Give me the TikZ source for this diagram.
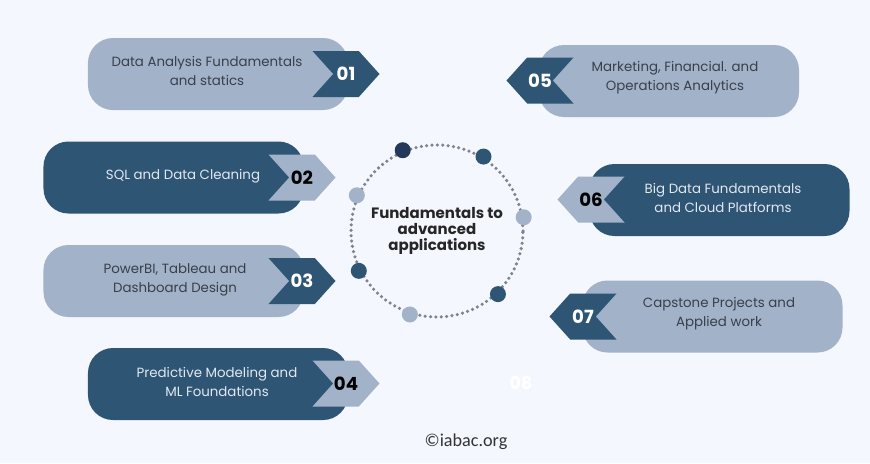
\documentclass[tikz,border=0pt]{standalone}
\usepackage{fontspec}
\setmainfont{Poppins}
\newfontfamily\footfont{Carlito}
\usetikzlibrary{shapes.symbols,positioning}
\definecolor{bgc}{HTML}{F4F7FD}
\definecolor{lightc}{HTML}{A1B2C9}
\definecolor{darkc}{HTML}{2F5575}
\definecolor{navyc}{HTML}{26385A}
\definecolor{ringc}{HTML}{7D8391}
\definecolor{inkc}{HTML}{3A3F4A}
\definecolor{paperc}{HTML}{E2E8F0}

\begin{document}
\begin{tikzpicture}[
  x=0.03cm, y=-0.03cm,
  every node/.style={font=\fontsize{11.4}{16}\selectfont},
  box/.style={rounded corners=0.75cm, minimum width=7.8cm, minimum height=2.16cm, inner sep=0pt},
  lightbox/.style={box, fill=lightc},
  darkbox/.style={box, fill=darkc},
  ontext/.style={align=center, text=inkc},
  offtext/.style={align=center, text=paperc},
  tag/.style={signal, signal pointer angle=96, minimum width=2.01cm, minimum height=1.38cm, inner sep=0pt, font=\fontsize{15.5}{15.5}\selectfont\bfseries},
  tagr/.style={tag, signal from=west, signal to=east},
  tagl/.style={tag, signal from=east, signal to=west},
  dot/.style={circle, minimum size=0.48cm, inner sep=0pt}
]
\fill[bgc] (0,0) rectangle (870,463);
\useasboundingbox (0,0) rectangle (870,463);

% left column
\node[lightbox] (b1) at (218,74) {};
\node[darkbox] (b2) at (173.5,177.5) {};
\node[lightbox] (b3) at (173.5,281) {};
\node[darkbox] (b4) at (218,384) {};
\node[tagr, fill=darkc, text=white] (t1) at (346,74) {01};
\node[tagr, fill=lightc, text=black] (t2) at (302,177.5) {02};
\node[tagr, fill=darkc, text=white] (t3) at (302,281) {03};
\node[tagr, fill=lightc, text=black] (t4) at (346,383.5) {04};
\node[ontext] (l1) at (207,71) {Data Analysis Fundamentals\\and statics};
\node[offtext] (l2) at (183,176) {SQL and Data Cleaning};
\node[ontext] (l3) at (175,279.5) {PowerBI, Tableau and\\Dashboard Design};
\node[offtext] (l4) at (217,382) {Predictive Modeling and\\ML Foundations};

% right column
\node[lightbox] (b5) at (669,81) {};
\node[darkbox] (b6) at (719.5,200) {};
\node[lightbox] (b7) at (712.5,316.5) {};
\node[tagl, fill=darkc, text=white] (t5) at (540,80.5) {05};
\node[tagl, fill=lightc, text=black] (t6) at (591,199.5) {06};
\node[tagl, fill=darkc, text=white] (t7) at (583,316.5) {07};
\node[ontext] (l5) at (675,78) {Marketing, Financial. and\\Operations Analytics};
\node[offtext] (l6) at (723,198) {Big Data Fundamentals\\and Cloud Platforms};
\node[ontext] (l7) at (719,314) {Capstone Projects and\\Applied work};

% hub
\node[circle, minimum size=5.16cm, draw=ringc, line width=3pt, line cap=round,
  dash pattern=on 0pt off 4.6pt, align=center,
  font=\fontsize{12.8}{13.8}\selectfont\bfseries, text=black!85] (hub) at (437,231)
  {Fundamentals to\\advanced\\applications};
\foreach \a/\c [count=\i] in {113/navyc,58/darkc,9/lightc,-46/darkc,-108/lightc,207/darkc,156/lightc}
  \node[dot, fill=\c] (d\i) at (hub.\a) {};

\node[font=\fontsize{15}{15}\selectfont\bfseries, text=white] (n8) at (521,383) {08};
\node[font=\footfont\fontsize{15.5}{15.5}\selectfont, text=black!80] (site) at (466,442) {©iabac.org};
\end{tikzpicture}
\end{document}
